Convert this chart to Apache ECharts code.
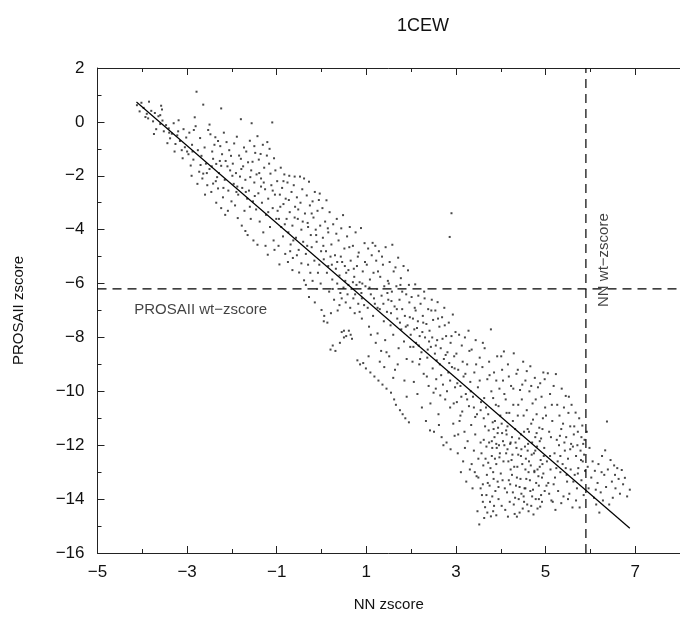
<!DOCTYPE html>
<html>
<head>
<meta charset="utf-8">
<title>1CEW</title>
<script src="https://cdn.jsdelivr.net/npm/echarts@6/dist/echarts.min.js"></script>
<style>
    html, body { margin: 0; padding: 0; background: #fff; }
    #mainChart { width: 680px; height: 617px; }
</style>
</head>
<body>
<div id="mainChart"></div>
<script>
// NN zscore vs PROSAII zscore, one point per decoy
const points = [
    [-4.12,0.62],[-4.06,0.39],[-4.02,0.71],[-3.97,0.52],[-3.93,0.18],[-3.87,0.13],[-3.85,0.75],[-3.8,0.41],[-3.76,0.02],[-3.72,0.33],[-3.69,-0.27],[-3.64,0.21],[-3.6,-0.08],[-3.56,0.46],[-3.52,-0.35],[-3.47,-0.12],[-3.41,-0.24],[-3.38,-0.61],[-3.34,-0.44],[-3.3,-0.05],[-3.26,-0.82],[-3.22,-0.5],[-3.19,0.06],[-3.16,-0.71],[-3.12,-1.05],[-3.08,-0.27],[-3.05,-0.94],[-3.02,-0.58],[-3.44,-0.79],[-3.58,0.6],[-3.9,0.3],[-3.74,-0.45],[-3.28,-1.1],[-3.1,-1.35],[-3.55,0.05],
    [-2.97,-1.2],[-2.95,-0.4],[-2.92,-1.62],[-2.89,-0.85],[-2.86,-1.4],[-2.83,0.17],[-2.81,-0.16],[-2.79,1.12],[-2.76,-1.05],[-2.73,-1.85],[-2.71,-0.6],[-2.68,-1.26],[-2.66,-2.1],[-2.64,0.64],[-2.64,-1.92],[-2.61,-0.95],[-2.58,-1.55],[-2.55,-2.35],[-2.53,-0.3],[-2.5,-1.75],[-2.48,-0.46],[-2.46,-2.6],[-2.44,-1.1],[-2.42,-1.37],[-2.42,-2.29],[-2.39,-0.85],[-2.37,-0.57],[-2.35,-1.56],[-2.33,-2.05],[-2.31,-0.71],[-2.31,-2.47],[-2.29,-1.9],[-2.26,-0.9],[-2.24,0.5],[-2.24,-1.63],[-2.24,-3.2],[-2.22,-1.2],[-2.2,-2.8],[-2.18,-0.4],[-2.16,-2.15],[-2.14,-1.45],[-2.12,-0.75],[-2.09,-3.3],[-2.08,-2.55],[-2.06,-1.05],[-2.04,-1.8],[-2.02,-1.26],[-2.01,-2.95],[-2.77,-2.3],[-2.6,-2.7],[-2.85,-0.3],[-2.5,-0.1],[-2.15,-3.45],[-2.35,-3.0],[-2.9,-2.0],
    [-1.98,-1.55],[-1.96,-2.3],[-1.95,-0.8],[-1.93,-3.1],[-1.91,-1.9],[-1.89,-0.55],[-1.87,-3.57],[-1.86,-2.7],[-1.84,-1.25],[-1.82,-2.03],[-1.8,0.1],[-1.8,-1.37],[-1.78,-3.85],[-1.77,-2.45],[-1.75,-1.65],[-1.73,-0.95],[-1.72,-3.3],[-1.7,-2.15],[-1.68,-1.1],[-1.66,-2.85],[-1.65,-4.2],[-1.64,-1.5],[-1.62,-2.55],[-1.6,-0.7],[-1.58,-3.6],[-1.57,-1.8],[-1.56,-0.05],[-1.54,-1.48],[-1.53,-2.95],[-1.52,-4.4],[-1.5,-2.25],[-1.48,-1.15],[-1.46,-3.25],[-1.45,-1.95],[-1.43,-0.53],[-1.43,-4.56],[-1.41,-2.65],[-1.4,-1.4],[-1.38,-3.7],[-1.36,-1.19],[-1.35,-2.1],[-1.33,-3.0],[-1.31,-0.85],[-1.3,-4.1],[-1.28,-1.7],[-1.26,-2.5],[-1.24,-3.45],[-1.22,-1.25],[-1.21,-0.75],[-1.2,-4.93],[-1.19,-2.85],[-1.17,-1.55],[-1.16,-1.0],[-1.15,-3.9],[-1.14,-1.92],[-1.12,-2.35],[-1.1,-0.02],[-1.09,-3.2],[-1.07,-4.4],[-1.06,-1.35],[-1.04,-2.7],[-1.03,-1.8],[-1.01,-3.6],[-1.7,-4.05],[-1.9,-2.6],[-1.6,-3.15],[-1.35,-2.4],[-1.25,-4.6],[-1.5,-0.9],[-1.05,-4.75],
    [-0.99,-2.2],[-0.98,-3.3],[-0.96,-4.6],[-0.94,-5.29],[-0.93,-2.7],[-0.91,-1.7],[-0.9,-3.9],[-0.88,-2.45],[-0.86,-4.25],[-0.85,-3.05],[-0.83,-1.95],[-0.81,-4.9],[-0.8,-2.85],[-0.78,-3.6],[-0.76,-2.25],[-0.74,-4.1],[-0.72,-2.0],[-0.71,-3.35],[-0.69,-4.55],[-0.67,-2.6],[-0.65,-3.85],[-0.64,-5.05],[-0.62,-2.35],[-0.6,-2.03],[-0.59,-3.15],[-0.57,-4.3],[-0.55,-2.8],[-0.53,-3.6],[-0.51,-4.75],[-0.5,-5.59],[-0.48,-2.03],[-0.47,-3.0],[-0.45,-4.0],[-0.43,-2.5],[-0.41,-4.45],[-0.39,-2.1],[-0.39,-5.88],[-0.37,-3.4],[-0.35,-4.9],[-0.33,-2.73],[-0.31,-3.75],[-0.3,-5.3],[-0.28,-2.22],[-0.28,-6.5],[-0.26,-3.1],[-0.24,-4.2],[-0.22,-4.65],[-0.2,-2.95],[-0.18,-3.55],[-0.16,-5.15],[-0.15,-2.6],[-0.13,-4.0],[-0.11,-4.45],[-0.09,-3.3],[-0.08,-5.6],[-0.06,-2.9],[-0.04,-2.66],[-0.03,-3.85],[-0.01,-4.8],[-0.95,-3.6],[-0.7,-4.8],[-0.45,-5.25],[-0.2,-5.9],[-0.1,-6.2],[-0.85,-2.2],[-0.6,-3.55],[-0.3,-3.9],[-0.05,-5.3],[-0.55,-4.95],[-0.75,-5.2],[-0.15,-6.7],[-0.35,-6.05],[-0.65,-5.5],[-0.25,-5.6],[-0.02,-6.0],
    [0.0,-6.98],[0.02,-3.2],[0.03,-4.3],[0.05,-5.1],[0.06,-7.2],[0.08,-3.7],[0.1,-4.8],[0.11,-2.91],[0.12,-5.6],[0.13,-7.45],[0.15,-4.1],[0.17,-6.3],[0.18,-3.35],[0.2,-5.0],[0.21,-7.1],[0.22,-4.55],[0.24,-5.85],[0.25,-8.3],[0.26,-3.8],[0.28,-6.6],[0.3,-4.95],[0.31,-8.5],[0.32,-5.45],[0.34,-3.6],[0.35,-6.0],[0.36,-7.0],[0.38,-4.4],[0.4,-5.7],[0.41,-8.2],[0.42,-6.35],[0.44,-3.95],[0.45,-7.8],[0.46,-5.2],[0.48,-3.46],[0.49,-6.15],[0.5,-8.0],[0.51,-4.7],[0.53,-5.9],[0.54,-6.7],[0.55,-7.95],[0.57,-4.25],[0.58,-6.4],[0.6,-5.5],[0.61,-7.75],[0.63,-3.9],[0.64,-6.9],[0.65,-5.15],[0.67,-6.2],[0.68,-8.05],[0.7,-4.6],[0.71,-6.55],[0.73,-5.75],[0.74,-7.1],[0.76,-4.1],[0.78,-6.05],[0.79,-5.35],[0.8,-8.85],[0.82,-6.75],[0.83,-4.85],[0.85,-5.95],[0.86,-9.0],[0.88,-3.94],[0.89,-6.35],[0.9,-7.3],[0.92,-5.55],[0.93,-8.95],[0.95,-6.8],[0.96,-4.5],[0.98,-6.1],[0.99,-9.15],[0.15,-5.35],[0.35,-5.2],[0.55,-5.6],[0.75,-6.4],[0.6,-6.05],[0.45,-6.55],[0.25,-6.2],[0.9,-6.55],[0.7,-5.95],[0.4,-6.8],[0.05,-7.4],[0.2,-8.45],[0.5,-7.75],[0.65,-7.9],[0.85,-7.05],
    [1.01,-5.3],[1.03,-6.9],[1.04,-4.7],[1.06,-7.6],[1.08,-5.85],[1.09,-9.3],[1.1,-6.4],[1.12,-4.95],[1.14,-4.49],[1.15,-7.2],[1.16,-5.6],[1.18,-9.45],[1.19,-6.75],[1.21,-8.2],[1.22,-5.15],[1.24,-6.2],[1.25,-7.85],[1.27,-9.6],[1.28,-4.8],[1.3,-6.95],[1.31,-5.75],[1.33,-8.5],[1.34,-6.45],[1.36,-9.75],[1.37,-5.3],[1.39,-7.4],[1.4,-6.1],[1.42,-8.1],[1.43,-4.65],[1.45,-9.9],[1.46,-7.05],[1.48,-5.9],[1.49,-6.6],[1.51,-8.7],[1.52,-5.2],[1.54,-7.55],[1.55,-10.05],[1.57,-6.3],[1.58,-4.56],[1.6,-7.9],[1.61,-5.55],[1.63,-6.85],[1.64,-9.2],[1.66,-10.5],[1.67,-6.1],[1.69,-7.3],[1.71,-5.04],[1.72,-8.4],[1.74,-6.6],[1.75,-10.7],[1.77,-5.8],[1.78,-7.7],[1.8,-6.95],[1.81,-10.85],[1.83,-5.35],[1.84,-8.15],[1.86,-7.2],[1.87,-11.0],[1.89,-6.4],[1.9,-8.8],[1.92,-7.55],[1.93,-5.51],[1.95,-11.15],[1.96,-6.7],[1.98,-8.35],[1.99,-7.9],[1.2,-4.6],[1.35,-5.0],[1.5,-6.0],[1.65,-5.4],[1.8,-6.3],[1.95,-6.05],[1.1,-7.9],[1.3,-8.9],[1.45,-8.55],[1.6,-9.5],[1.7,-9.0],[1.85,-9.6],[1.25,-6.9],[1.55,-7.1],[1.75,-7.45],[1.05,-8.7],[1.4,-9.1],[1.9,-10.2],[1.62,-10.3],
    [2.01,-6.5],[2.03,-8.9],[2.04,-7.3],[2.06,-9.65],[2.08,-6.9],[2.09,-6.03],[2.11,-8.2],[2.13,-7.65],[2.14,-10.1],[2.16,-6.45],[2.18,-9.0],[2.19,-7.95],[2.21,-6.75],[2.23,-8.55],[2.24,-10.6],[2.26,-7.2],[2.28,-9.35],[2.29,-6.3],[2.31,-8.0],[2.33,-11.1],[2.34,-7.5],[2.36,-8.75],[2.38,-6.95],[2.39,-9.8],[2.41,-7.75],[2.43,-10.45],[2.44,-8.35],[2.46,-6.6],[2.48,-9.15],[2.49,-7.35],[2.51,-11.5],[2.53,-8.6],[2.54,-7.0],[2.56,-9.55],[2.58,-8.1],[2.59,-6.69],[2.61,-10.85],[2.63,-7.6],[2.64,-9.0],[2.66,-8.4],[2.68,-11.7],[2.69,-7.25],[2.71,-9.75],[2.73,-8.8],[2.74,-6.9],[2.76,-10.3],[2.78,-7.95],[2.79,-11.9],[2.81,-8.55],[2.83,-9.3],[2.84,-7.45],[2.86,-4.27],[2.87,-10.6],[2.88,-8.2],[2.9,-3.39],[2.91,-9.1],[2.93,-7.15],[2.94,-11.2],[2.96,-8.7],[2.98,-9.85],[2.99,-7.8],[2.1,-7.0],[2.25,-7.8],[2.4,-8.15],[2.55,-8.3],[2.7,-8.05],[2.85,-8.95],[2.2,-8.8],[2.35,-9.45],[2.5,-10.05],[2.65,-10.15],[2.8,-10.0],[2.95,-10.45],[2.15,-7.4],[2.3,-6.55],[2.45,-7.0],[2.6,-7.3],[2.75,-7.55],[2.9,-7.95],[2.05,-8.35],[2.42,-11.45],[2.62,-11.25],[2.72,-12.0],[2.88,-12.15],[2.97,-11.65],[2.55,-9.9],
    [3.01,-8.6],[3.02,-10.4],[3.04,-12.3],[3.05,-9.2],[3.07,-7.9],[3.08,-11.1],[3.1,-9.8],[3.11,-13.0],[3.13,-8.3],[3.14,-10.75],[3.16,-12.6],[3.17,-9.45],[3.19,-11.5],[3.2,-8.0],[3.22,-10.1],[3.23,-13.35],[3.25,-9.0],[3.26,-11.85],[3.28,-7.75],[3.29,-10.55],[3.31,-12.9],[3.32,-9.65],[3.34,-11.25],[3.35,-8.45],[3.37,-13.6],[3.38,-10.2],[3.4,-12.2],[3.41,-9.3],[3.43,-11.6],[3.44,-8.1],[3.46,-13.15],[3.47,-10.85],[3.49,-9.85],[3.5,-12.5],[3.52,-14.94],[3.53,-8.75],[3.55,-11.9],[3.56,-10.4],[3.58,-13.85],[3.59,-9.1],[3.61,-12.75],[3.62,-11.0],[3.64,-8.4],[3.65,-14.3],[3.67,-10.6],[3.68,-12.05],[3.7,-9.55],[3.71,-13.4],[3.73,-11.45],[3.74,-8.9],[3.76,-14.1],[3.78,-7.7],[3.78,-14.64],[3.79,-10.0],[3.8,-12.4],[3.82,-11.15],[3.83,-13.0],[3.85,-9.3],[3.86,-11.7],[3.88,-13.7],[3.89,-10.5],[3.91,-12.1],[3.92,-8.7],[3.94,-11.35],[3.95,-13.55],[3.97,-9.9],[3.98,-12.3],[3.99,-10.9],[3.05,-11.6],[3.2,-12.1],[3.35,-12.7],[3.5,-13.2],[3.6,-13.45],[3.7,-14.5],[3.85,-14.25],[3.95,-14.0],[3.15,-8.9],[3.3,-8.5],[3.45,-9.0],[3.6,-8.2],[3.75,-9.4],[3.9,-9.6],[3.1,-10.9],[3.25,-10.3],[3.4,-10.6],[3.55,-10.7],[3.65,-11.3],[3.8,-11.85],[3.9,-11.95],[3.57,-12.3],[3.72,-12.65],[3.87,-12.5],[3.42,-13.0],[3.63,-14.7],[3.48,-14.45],[3.81,-13.9],[3.93,-11.55],[3.96,-12.0],[3.84,-11.4],
    [4.01,-8.7],[4.02,-11.2],[4.04,-13.3],[4.05,-9.6],[4.07,-8.52],[4.08,-12.0],[4.1,-14.4],[4.11,-10.3],[4.13,-11.6],[4.14,-13.75],[4.16,-9.0],[4.17,-12.6],[4.19,-10.8],[4.2,-14.1],[4.22,-11.9],[4.23,-9.8],[4.25,-13.1],[4.26,-12.35],[4.28,-10.5],[4.29,-8.59],[4.31,-14.55],[4.32,-11.4],[4.34,-13.5],[4.35,-9.35],[4.37,-12.8],[4.38,-10.9],[4.4,-14.0],[4.41,-11.75],[4.43,-9.95],[4.44,-13.25],[4.46,-12.15],[4.47,-10.3],[4.49,-14.35],[4.5,-8.9],[4.52,-11.5],[4.53,-13.6],[4.55,-9.6],[4.56,-12.5],[4.58,-10.7],[4.59,-14.2],[4.61,-11.95],[4.62,-13.0],[4.64,-10.0],[4.66,-9.07],[4.67,-12.75],[4.68,-11.2],[4.7,-13.9],[4.71,-10.45],[4.73,-14.57],[4.74,-12.3],[4.76,-9.5],[4.77,-11.7],[4.79,-13.4],[4.8,-10.85],[4.82,-12.9],[4.83,-9.85],[4.85,-14.0],[4.86,-11.35],[4.88,-14.28],[4.89,-12.55],[4.91,-10.2],[4.92,-13.2],[4.94,-11.0],[4.95,-9.3],[4.97,-12.1],[4.98,-13.7],[4.99,-10.6],[4.05,-11.85],[4.15,-11.3],[4.25,-11.7],[4.35,-12.1],[4.45,-12.4],[4.55,-12.9],[4.65,-13.3],[4.75,-13.0],[4.85,-13.5],[4.95,-13.05],[4.12,-12.3],[4.22,-12.9],[4.32,-13.95],[4.42,-14.5],[4.52,-14.1],[4.62,-14.45],[4.72,-13.65],[4.82,-14.35],[4.92,-14.1],[4.08,-10.1],[4.18,-9.45],[4.28,-9.9],[4.38,-9.2],[4.48,-9.75],[4.58,-9.25],[4.68,-9.8],[4.78,-10.3],[4.88,-9.7],[4.98,-9.55],[4.03,-9.2],[4.13,-10.8],[4.27,-11.1],[4.39,-10.5],[4.51,-10.9],[4.63,-11.5],[4.77,-12.2],[4.87,-11.85],[4.93,-12.7],[4.21,-13.45],[4.46,-13.8],[4.6,-12.2],[4.7,-11.9],[4.8,-11.55],[4.9,-11.75],
    [5.01,-10.9],[5.03,-12.6],[5.05,-9.33],[5.06,-13.4],[5.08,-11.5],[5.1,-10.1],[5.11,-12.9],[5.13,-14.05],[5.15,-11.1],[5.16,-14.1],[5.18,-9.8],[5.2,-12.3],[5.21,-13.2],[5.23,-9.36],[5.25,-11.8],[5.26,-10.5],[5.28,-13.7],[5.3,-12.0],[5.31,-10.9],[5.33,-13.0],[5.35,-11.4],[5.36,-9.9],[5.38,-12.7],[5.4,-13.9],[5.41,-10.6],[5.43,-12.2],[5.45,-10.17],[5.46,-11.7],[5.48,-13.35],[5.5,-12.5],[5.51,-10.8],[5.53,-13.8],[5.55,-11.3],[5.56,-12.9],[5.58,-10.5],[5.6,-14.31],[5.61,-12.05],[5.63,-11.6],[5.65,-13.1],[5.67,-10.79],[5.68,-12.4],[5.7,-13.6],[5.72,-11.5],[5.73,-12.85],[5.75,-11.0],[5.76,-14.31],[5.78,-12.2],[5.8,-13.3],[5.82,-11.27],[5.83,-12.6],[5.85,-13.85],[5.87,-11.8],[5.88,-12.95],[5.08,-13.8],[5.22,-14.4],[5.35,-14.15],[5.5,-14.0],[5.68,-14.05],[5.12,-11.7],[5.27,-12.6],[5.42,-11.9],[5.57,-11.95],[5.71,-12.0],[5.86,-12.35],[5.14,-10.5],[5.32,-11.65],[5.52,-10.2],[5.62,-13.35],[5.45,-12.85],[5.8,-11.7],
    [5.92,-11.5],[5.94,-12.8],[5.96,-13.6],[5.98,-12.1],[6.02,-13.2],[6.05,-12.6],[6.08,-13.95],[6.1,-12.95],[6.13,-14.2],[6.16,-13.4],[6.18,-12.7],[6.2,-14.5],[6.23,-13.75],[6.26,-12.4],[6.28,-14.05],[6.31,-13.1],[6.33,-12.19],[6.35,-13.55],[6.37,-11.12],[6.39,-12.9],[6.42,-14.2],[6.45,-12.55],[6.48,-13.35],[6.5,-13.95],[6.53,-12.75],[6.56,-13.6],[6.6,-12.85],[6.63,-13.25],[6.66,-13.8],[6.7,-12.92],[6.73,-13.45],[6.77,-13.21],[6.82,-13.9],[6.88,-13.65],[6.12,-13.65],[6.25,-13.0],[6.55,-13.1],
    [3.62,-11.8],[3.66,-12.5],[3.69,-13.1],[3.74,-11.9],[3.77,-12.85],[3.81,-12.1],[3.84,-13.25],[3.87,-11.1],[3.9,-12.7],[3.93,-13.35],[3.97,-12.45],[4.0,-13.05],[4.03,-11.55],[4.06,-12.6],[4.09,-13.6],[4.12,-11.45],[4.15,-12.15],[4.18,-13.3],[4.21,-11.95],[4.24,-12.55],[4.27,-13.75],[4.3,-12.8],[4.33,-11.9],[4.36,-13.2],[4.39,-12.35],[4.42,-13.55],[4.45,-11.6],[4.48,-12.7],[4.51,-13.9],[4.54,-12.05],[4.57,-13.25],[4.6,-11.4],[4.63,-12.6],[4.66,-13.7],[4.69,-12.35],[4.72,-11.05],[4.75,-12.95],[4.78,-14.0],[4.81,-12.05],[4.84,-13.15],[4.87,-12.8],[4.9,-13.85],[4.93,-11.4],[4.96,-12.4],[3.55,-13.6],[3.6,-14.1],[3.68,-13.85],[3.75,-13.5],[3.83,-14.45],[3.9,-14.6],[4.02,-14.25],[4.16,-14.65],[4.29,-14.2],[4.36,-14.65],[4.55,-13.6],[4.68,-14.25],[5.02,-13.5],[5.1,-12.4],[5.18,-13.45],[5.24,-12.85],[5.33,-12.4],[5.39,-11.2],[5.47,-13.1],[5.55,-12.15],[5.64,-11.3],[5.72,-13.05],[5.79,-12.55],[5.84,-11.95],
    [-0.92,-3.15],[-0.82,-3.8],[-0.73,-2.9],[-0.63,-4.4],[-0.52,-3.25],[-0.42,-3.7],[-0.32,-4.6],[-0.22,-3.4],[-0.12,-4.2],[0.04,-4.6],[0.14,-3.95],[0.23,-5.3],[0.33,-4.15],[0.43,-5.0],[0.52,-5.35],[0.62,-4.65],[0.72,-5.45],[0.81,-5.0],[0.91,-6.0],[0.97,-5.2],[1.07,-6.15],[1.17,-6.55],[1.26,-5.55],[1.38,-6.75],[1.47,-6.35],[1.56,-6.65],[1.68,-6.95],[1.76,-6.05],[1.88,-7.6],[1.97,-7.25],[2.07,-7.7],[2.17,-8.3],[2.27,-7.45],[2.37,-8.45],[2.47,-8.0],[2.57,-8.85],[2.67,-9.4],[2.77,-8.65],[2.87,-9.6],[2.97,-9.15],[3.03,-9.7],[3.12,-10.2],[3.21,-9.35],[3.33,-10.0],[3.43,-10.95],[3.53,-9.6],[3.63,-10.25],[3.72,-10.85],[3.83,-10.25],[3.95,-10.55],
    [-2.7,-1.6],[-2.56,-1.9],[-2.45,-1.65],[-2.36,-2.2],[-2.27,-1.45],[-2.19,-2.45],[-2.1,-1.65],[-1.99,-2.0],[-1.88,-2.4],[-1.79,-1.75],[-1.69,-2.6],[-1.59,-2.05],[-1.49,-2.75],[-1.39,-1.9],[-1.29,-2.25],[-1.19,-3.35],[-1.09,-2.55],[-3.4,-0.4],[-3.2,-0.35],[-3.0,-1.1],[-2.88,-1.1],[-3.6,0.25]
]

// fitted line end points
const fitLine = [[-4.13, 0.74], [6.88, -15.08]]

// wild type reference values
const nnWt = 5.9
const prosaWt = -6.2

const xTicks = { min: -5, max: 8, interval: 2 }
const yTicks = { min: -16, max: 2, interval: 2 }

const minus = (v) => String(v).replace('-', '\u2212')
const fontFamily = '"Liberation Sans", Arial, sans-serif'

var myChart = echarts.init(document.getElementById('mainChart'))

const axisCommon = {
    axisLine: { onZero: false, lineStyle: { color: '#222', width: 1 } },
    axisTick: { inside: true, length: 7, lineStyle: { color: '#222' } },
    minorTick: { show: true, splitNumber: 2, length: 4, lineStyle: { color: '#222' } },
    splitLine: { show: false }
}

var option = {
    animation: false,
    backgroundColor: '#fff',
    title: {
        text: '1CEW',
        left: 418,
        top: 12,
        textAlign: 'center',
        textStyle: { fontFamily: fontFamily, fontSize: 18, fontWeight: 'normal', color: '#111' }
    },
    // plot box runs past the right edge of the picture
    grid: { left: 97.5, top: 68, width: 591.5, height: 491 },
    xAxis: [
        Object.assign({}, axisCommon, {
            type: 'value',
            min: xTicks.min, max: xTicks.max, interval: xTicks.interval,
            name: 'NN zscore',
            nameLocation: 'middle',
            nameGap: 44,
            nameTextStyle: { fontFamily: fontFamily, fontSize: 15, color: '#111' },
            axisLabel: { margin: 11, fontFamily: fontFamily, fontSize: 17, color: '#111', showMaxLabel: false, formatter: minus }
        }),
        Object.assign({}, axisCommon, {
            type: 'value', position: 'top',
            min: xTicks.min, max: xTicks.max, interval: xTicks.interval,
            axisLabel: { show: false }
        })
    ],
    yAxis: [
        Object.assign({}, axisCommon, {
            type: 'value',
            min: yTicks.min, max: yTicks.max, interval: yTicks.interval,
            name: 'PROSAII zscore',
            nameLocation: 'middle',
            nameGap: 71,
            nameTextStyle: { fontFamily: fontFamily, fontSize: 15, color: '#111' },
            axisLabel: { margin: 13, fontFamily: fontFamily, fontSize: 17, color: '#111', formatter: minus }
        })
    ],
    series: [
        {
            name: 'decoys',
            type: 'scatter',
            symbol: 'rect',
            symbolSize: 2,
            itemStyle: { color: '#1a1a1a' },
            data: points
        },
        {
            name: 'fit',
            type: 'line',
            symbol: 'none',
            lineStyle: { color: '#000', width: 1.2 },
            data: fitLine
        },
        {
            name: 'NN wt',
            type: 'line',
            symbol: 'none',
            lineStyle: { color: '#000', width: 1.2, type: [9, 6] },
            data: [[nnWt, yTicks.min], [nnWt, yTicks.max]]
        },
        {
            name: 'PROSAII wt',
            type: 'line',
            symbol: 'none',
            lineStyle: { color: '#000', width: 1.2, type: [9, 6] },
            data: [[xTicks.min, prosaWt], [xTicks.max, prosaWt]]
        },
        {
            // text labels next to the reference lines
            name: 'labels',
            type: 'scatter',
            symbolSize: 0,
            silent: true,
            data: [
                { value: [-4.18, -6.98], label: { show: true, position: 'right', distance: 0, formatter: 'PROSAII wt\u2212zscore' } },
                { value: [6.31, -5.13], label: { show: true, position: 'inside', rotate: 90, formatter: 'NN wt\u2212zscore' } }
            ],
            label: { fontFamily: fontFamily, fontSize: 15, color: '#111' }
        }
    ]
}

myChart.setOption(option)
</script>
</body>
</html>
